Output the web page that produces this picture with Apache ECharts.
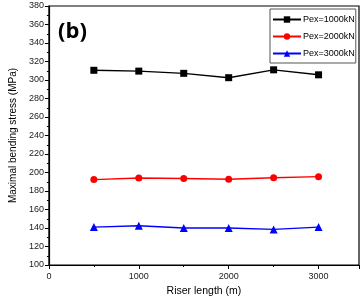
<!DOCTYPE html>
<html><head><meta charset="utf-8">
<script src="https://cdn.jsdelivr.net/npm/echarts@6/dist/echarts.min.js"></script>
<style>html,body{margin:0;padding:0;background:#fff}#c{width:363px;height:302px}</style>
</head><body><div id="c"></div>
<script>
var riserLength = [500, 1000, 1500, 2000, 2500, 3000];
var pex1000 = [310.5, 309.6, 307.2, 302.5, 311.0, 305.6];
var pex2000 = [192.3, 194.0, 193.5, 192.7, 194.3, 195.5];
var pex3000 = [141.0, 142.5, 140.0, 140.0, 138.5, 141.0];
var seriesNames = ['Pex=1000kN', 'Pex=2000kN', 'Pex=3000kN'];
var xTicks = [0, 1000, 2000, 3000];

function pairs(v){ return riserLength.map(function(x,i){ return [x, v[i]]; }); }
var chart = echarts.init(document.getElementById('c'));
var font = 'Liberation Sans, Arial, sans-serif';
chart.setOption({
  animation: false,
  backgroundColor: '#fff',
  title: { text: '(b)', left: 53, top: 16, textStyle: { fontFamily: 'Open Sans, sans-serif', fontWeight: 'bold', fontSize: 22, color: '#000' } },
  grid: { left: 38, right: 4, top: 6, bottom: 35, show: true, borderColor: '#000', borderWidth: 1.2 },
  legend: {
    data: seriesNames, orient: 'vertical', left: 270, top: 9,
    borderColor: '#555', borderWidth: 1, padding: [6, 1, 5, 2], itemGap: 8,
    itemWidth: 28, itemHeight: 8,
    textStyle: { fontFamily: font, fontSize: 9, color: '#000', padding: [0, 0, 0, -3] }
  },
  xAxis: {
    type: 'value', min: 0, max: 3450, interval: 1000,
    name: 'Riser length (m)', nameLocation: 'middle', nameGap: 21,
    nameTextStyle: { fontFamily: font, fontSize: 10.5, color: '#000' },
    axisLine: { lineStyle: { color: '#000', width: 1.2 } },
    axisTick: { length: 4, lineStyle: { color: '#000' } },
    minorTick: { show: true, splitNumber: 2, length: 2, lineStyle: { color: '#000' } },
    splitLine: { show: false },
    axisLabel: { fontFamily: font, fontSize: 9, color: '#222', margin: 7, showMaxLabel: false,
      formatter: function(v){ return xTicks.indexOf(v) >= 0 ? String(v) : ''; } }
  },
  yAxis: {
    type: 'value', min: 100, max: 380, interval: 20,
    name: 'Maximal bending stress (MPa)', nameLocation: 'middle', nameGap: 27,
    nameTextStyle: { fontFamily: font, fontSize: 10, color: '#000' },
    axisLine: { lineStyle: { color: '#000', width: 1.2 } },
    axisTick: { length: 4, lineStyle: { color: '#000' } },
    minorTick: { show: true, splitNumber: 2, length: 2, lineStyle: { color: '#000' } },
    splitLine: { show: false },
    axisLabel: { fontFamily: font, fontSize: 9, color: '#222', margin: 5 }
  },
  series: [
    { name: seriesNames[0], type: 'line', data: pairs(pex1000), symbol: 'rect', symbolSize: 7,
      itemStyle: { color: '#000' }, lineStyle: { color: '#000', width: 1.4 } },
    { name: seriesNames[1], type: 'line', data: pairs(pex2000), symbol: 'circle', symbolSize: 7,
      itemStyle: { color: '#ff0000' }, lineStyle: { color: '#ff0000', width: 1.4 } },
    { name: seriesNames[2], type: 'line', data: pairs(pex3000), symbol: 'triangle', symbolSize: 8,
      itemStyle: { color: '#0000ff' }, lineStyle: { color: '#0000ff', width: 1.4 } }
  ]
});
</script></body></html>
